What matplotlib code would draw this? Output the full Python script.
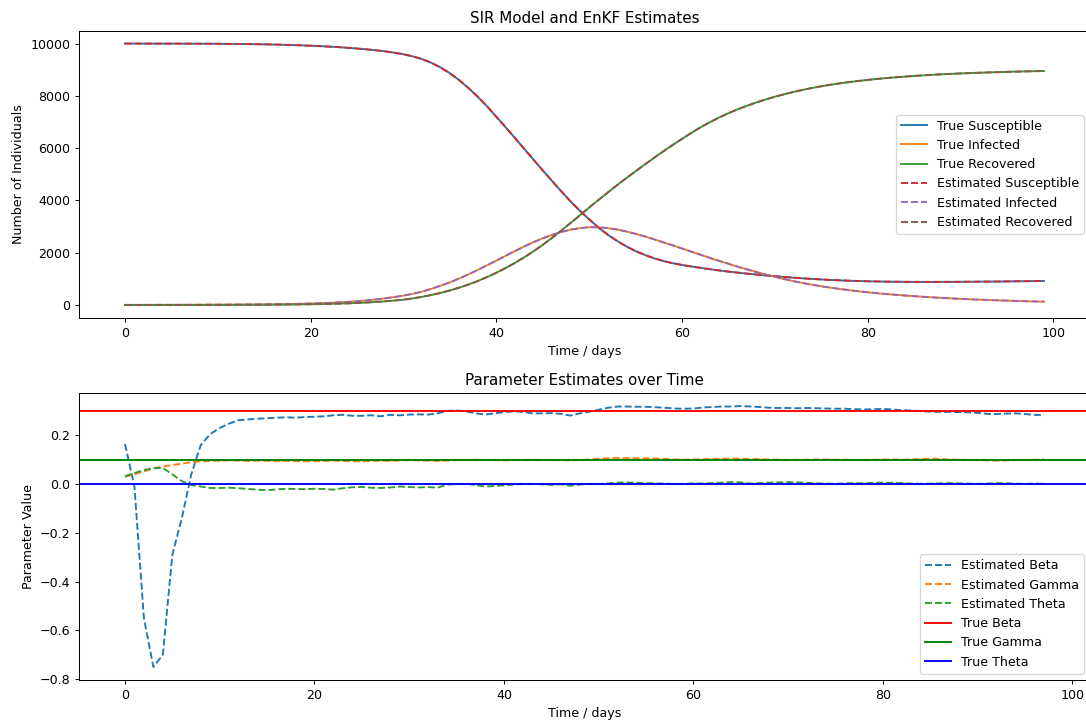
import matplotlib
matplotlib.use("Agg")
import matplotlib.pyplot as plt

# ---------------- data ----------------
days = list(range(100))

true_S = [10000, 10000, 9999, 9999, 9998, 9998, 9997, 9996, 9995, 9993,
          9991, 9988, 9985, 9981, 9976, 9970, 9963, 9954, 9944, 9932,
          9918, 9902, 9884, 9863, 9838, 9810, 9780, 9745, 9703, 9652,
          9590, 9510, 9405, 9265, 9085, 8865, 8600, 8300, 7965, 7600,
          7200, 6800, 6390, 5975, 5560, 5150, 4745, 4345, 3960, 3605,
          3275, 2965, 2690, 2450, 2240, 2060, 1910, 1785, 1680, 1595,
          1530, 1472, 1418, 1368, 1320, 1276, 1236, 1198, 1163, 1130,
          1099, 1070, 1043, 1018, 995, 975, 957, 941, 927, 915,
          905, 897, 891, 887, 884, 882, 881, 881, 882, 883,
          885, 887, 890, 893, 896, 900, 904, 908, 912, 916]

true_I = [1, 1, 1, 2, 2, 3, 3, 4, 5, 6,
          7, 9, 11, 13, 16, 20, 24, 29, 36, 44,
          53, 65, 79, 96, 117, 142, 172, 208, 251, 302,
          355, 425, 510, 615, 735, 865, 1010, 1170, 1340, 1515,
          1695, 1880, 2060, 2235, 2400, 2550, 2680, 2790, 2880, 2940,
          2975, 2970, 2940, 2885, 2810, 2720, 2620, 2510, 2395, 2280,
          2160, 2040, 1920, 1800, 1685, 1575, 1465, 1360, 1260, 1165,
          1075, 990, 910, 840, 775, 715, 660, 610, 565, 523,
          485, 450, 418, 388, 360, 335, 311, 289, 269, 250,
          233, 217, 202, 188, 176, 164, 153, 143, 134, 126]

true_R = [0, 0, 0, 0, 1, 1, 1, 2, 2, 3,
          3, 4, 5, 6, 8, 10, 12, 15, 18, 22,
          27, 33, 40, 49, 60, 75, 92, 113, 138, 167,
          200, 250, 310, 380, 460, 555, 660, 780, 915, 1065,
          1230, 1410, 1605, 1820, 2050, 2300, 2565, 2845, 3135, 3430,
          3725, 4015, 4300, 4580, 4850, 5115, 5375, 5630, 5880, 6120,
          6350, 6580, 6795, 6990, 7170, 7335, 7485, 7620, 7745, 7860,
          7965, 8060, 8148, 8228, 8300, 8365, 8425, 8478, 8526, 8570,
          8610, 8646, 8679, 8709, 8736, 8761, 8784, 8805, 8824, 8841,
          8857, 8871, 8884, 8896, 8907, 8917, 8926, 8935, 8943, 8950]

# EnKF state estimates (visually identical to the true trajectories)
est_S = list(true_S)
est_I = list(true_I)
est_R = list(true_R)

param_days = list(range(98))

est_beta = [0.164, -0.01, -0.55, -0.75, -0.70, -0.29, -0.14, 0.04, 0.16, 0.205,
            0.23, 0.248, 0.262, 0.265, 0.268, 0.27, 0.272, 0.274, 0.272, 0.275,
            0.276, 0.278, 0.282, 0.284, 0.28, 0.28, 0.282, 0.278, 0.284, 0.282,
            0.285, 0.286, 0.285, 0.29, 0.30, 0.302, 0.298, 0.29, 0.285, 0.29,
            0.295, 0.298, 0.296, 0.29, 0.29, 0.291, 0.288, 0.281, 0.29, 0.297,
            0.305, 0.313, 0.318, 0.318, 0.317, 0.317, 0.315, 0.313, 0.31, 0.309,
            0.31, 0.314, 0.316, 0.318, 0.318, 0.32, 0.318, 0.316, 0.313, 0.312,
            0.312, 0.311, 0.312, 0.311, 0.31, 0.309, 0.309, 0.307, 0.306, 0.307,
            0.308, 0.306, 0.303, 0.302, 0.299, 0.297, 0.296, 0.296, 0.295, 0.294,
            0.292, 0.288, 0.287, 0.289, 0.29, 0.287, 0.284, 0.283]

est_gamma = [0.03, 0.04, 0.052, 0.064, 0.072, 0.078, 0.084, 0.09, 0.093, 0.095,
             0.096, 0.097, 0.096, 0.095, 0.096, 0.095, 0.094, 0.095, 0.094, 0.093,
             0.094, 0.095, 0.096, 0.095, 0.094, 0.093, 0.095, 0.096, 0.095, 0.097,
             0.098, 0.097, 0.096, 0.095, 0.096, 0.098, 0.099, 0.1, 0.099, 0.098,
             0.097, 0.098, 0.099, 0.1, 0.099, 0.098, 0.098, 0.097, 0.099, 0.101,
             0.104, 0.106, 0.107, 0.107, 0.106, 0.106, 0.105, 0.103, 0.101, 0.1,
             0.101, 0.102, 0.103, 0.104, 0.105, 0.104, 0.103, 0.102, 0.101, 0.1,
             0.099, 0.1, 0.1, 0.101, 0.101, 0.1, 0.1, 0.099, 0.099, 0.1,
             0.101, 0.101, 0.1, 0.101, 0.103, 0.104, 0.103, 0.101, 0.1, 0.099,
             0.098, 0.097, 0.096, 0.097, 0.098, 0.099, 0.1, 0.101]

est_theta = [0.032, 0.045, 0.058, 0.065, 0.066, 0.04, 0.012, -0.004, -0.01, -0.016,
             -0.016, -0.015, -0.017, -0.02, -0.023, -0.025, -0.022, -0.019, -0.02, -0.021,
             -0.019, -0.02, -0.023, -0.017, -0.013, -0.012, -0.015, -0.016, -0.014, -0.01,
             -0.012, -0.014, -0.012, -0.015, -0.002, 0.0, 0.001, -0.004, -0.01, -0.008,
             -0.005, -0.002, 0.0, 0.001, -0.001, -0.003, -0.001, -0.007, -0.002, 0.001,
             0.0, 0.003, 0.006, 0.007, 0.005, 0.004, 0.003, 0.002, 0.0, 0.001,
             0.003, 0.002, 0.004, 0.006, 0.008, 0.007, 0.002, 0.004, 0.006, 0.007,
             0.008, 0.007, 0.005, 0.003, 0.002, 0.001, 0.003, 0.004, 0.003, 0.005,
             0.006, 0.005, 0.004, 0.002, 0.001, 0.002, 0.003, 0.004, 0.003, 0.002,
             0.001, 0.002, 0.004, 0.003, 0.002, 0.001, 0.002, 0.001]

true_beta = 0.3
true_gamma = 0.1
true_theta = 0.0

# ---------------- figure ----------------
W, H = 1086, 721
DPI = 90.5
fig = plt.figure(figsize=(W / DPI, H / DPI), dpi=DPI)

def pos(left, top, right, bottom):
    return [left / W, 1 - bottom / H, (right - left) / W, (bottom - top) / H]

ax1 = fig.add_axes(pos(79, 30.5, 1090, 318))
ax2 = fig.add_axes(pos(79, 393, 1090, 680))

ax1.plot(days, true_S, label="True Susceptible")
ax1.plot(days, true_I, label="True Infected")
ax1.plot(days, true_R, label="True Recovered")
ax1.plot(days, est_S, "--", label="Estimated Susceptible")
ax1.plot(days, est_I, "--", label="Estimated Infected")
ax1.plot(days, est_R, "--", label="Estimated Recovered")
ax1.set_title("SIR Model and EnKF Estimates")
ax1.set_xlabel("Time / days")
ax1.set_ylabel("Number of Individuals")
ax1.legend(loc="center right")

ax2.plot(param_days, est_beta, "--", label="Estimated Beta")
ax2.plot(param_days, est_gamma, "--", label="Estimated Gamma")
ax2.plot(param_days, est_theta, "--", label="Estimated Theta")
ax2.axhline(true_beta, color="r", label="True Beta")
ax2.axhline(true_gamma, color="g", label="True Gamma")
ax2.axhline(true_theta, color="b", label="True Theta")
ax2.set_title("Parameter Estimates over Time")
ax2.set_xlabel("Time / days")
ax2.set_ylabel("Parameter Value")
ax2.legend(loc="lower right")

fig.savefig("out.png", dpi=DPI)
